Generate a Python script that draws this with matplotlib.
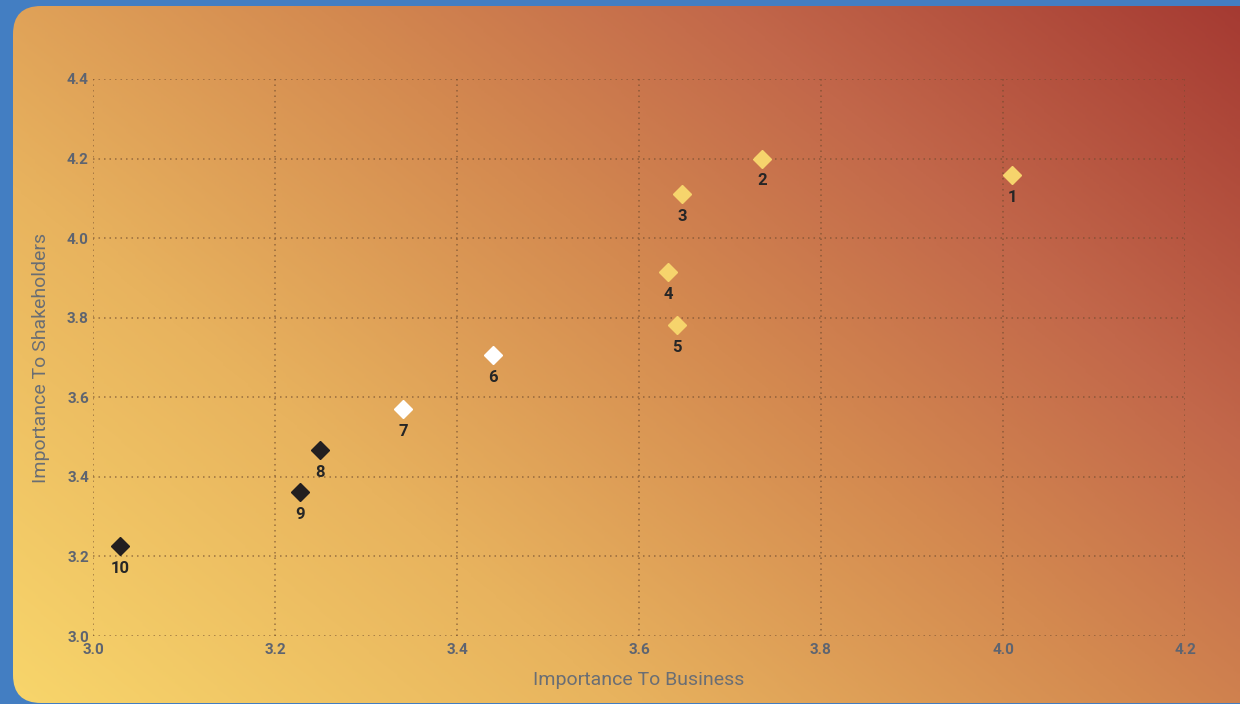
import matplotlib
matplotlib.use("Agg")
import matplotlib.pyplot as plt
import numpy as np
from matplotlib.colors import LinearSegmentedColormap
from matplotlib.patches import FancyBboxPatch

# data
labels = ["1", "2", "3", "4", "5", "6", "7", "8", "9", "10"]
business = [4.01, 3.735, 3.647, 3.632, 3.642, 3.44, 3.341, 3.249, 3.228, 3.03]
shakeholders = [4.158, 4.20, 4.111, 3.915, 3.781, 3.706, 3.570, 3.467, 3.362, 3.226]
groups = ["top", "top", "top", "top", "top", "mid", "mid", "low", "low", "low"]

GROUP_COLOR = {"top": "#F6D46C", "mid": "#FFFFFF", "low": "#231F20"}
xticks = [3.0, 3.2, 3.4, 3.6, 3.8, 4.0, 4.2]
yticks = [3.0, 3.2, 3.4, 3.6, 3.8, 4.0, 4.2, 4.4]

W, H = 1240, 704
fig = plt.figure(figsize=(W / 100, H / 100), dpi=100, facecolor="#437EC2")

# gradient card behind the plot
bg = fig.add_axes([0, 0, 1, 1])
bg.set_xlim(0, W)
bg.set_ylim(0, H)
bg.axis("off")
cmap = LinearSegmentedColormap.from_list(
    "card", [(0.0, "#F8D66B"), (0.3, "#E8B35E"), (0.55, "#D48A50"),
             (0.75, "#C2674A"), (1.0, "#A53A32")])
u = np.linspace(0, 1, 400)
v = np.linspace(0, 1, 300)
U, V = np.meshgrid(u, v)
T = 0.6 * U + 0.4 * V
im = bg.imshow(T, cmap=cmap, origin="lower", extent=[0, W, 0, H],
               aspect="auto", vmin=0, vmax=1, interpolation="bilinear")
card = FancyBboxPatch((13, 1), W - 13 + 30, H - 6 - 1,
                      boxstyle="round,pad=0,rounding_size=28",
                      transform=bg.transData, facecolor="none",
                      edgecolor="none")
bg.add_patch(card)
im.set_clip_path(card)

ax = fig.add_axes([93 / W, (H - 636) / H, (1185 - 93) / W, (636 - 79) / H])
ax.patch.set_alpha(0)
for s in ax.spines.values():
    s.set_visible(False)

ax.set_xlim(3.0, 4.2)
ax.set_ylim(3.0, 4.4)
ax.set_xticks(xticks)
ax.set_yticks(yticks)
ax.set_xticklabels([f"{t:.1f}" for t in xticks])
ax.set_yticklabels([f"{t:.1f}" for t in yticks])
ax.tick_params(length=0, labelsize=11, labelcolor="#5E6470")
ax.tick_params(axis="x", pad=5)
ax.tick_params(axis="y", pad=3)
for t in ax.get_xticklabels() + ax.get_yticklabels():
    t.set_fontweight("bold")
    t.set_family("Roboto")
ax.grid(True, color="#6E4A2E", alpha=0.65, lw=1.1, ls=(0, (1, 2.6)))
ax.set_axisbelow(True)

for lab, x, y, g in zip(labels, business, shakeholders, groups):
    ax.plot(x, y, ls="", marker="D", ms=9.5, mfc=GROUP_COLOR[g],
            mec=GROUP_COLOR[g], zorder=3)
    ax.annotate(lab, (x, y), textcoords="offset points", xytext=(0, -16),
                ha="center", va="center", fontsize=12, color="#262626",
                family="Roboto", fontweight="bold", zorder=4)

ax.set_xlabel("Importance To Business", fontsize=14, color="#6A6E74",
              family="Roboto", labelpad=10)
ax.set_ylabel("Importance To Shakeholders", fontsize=14, color="#6A6E74",
              family="Roboto", labelpad=12)

fig.savefig("out.png", dpi=100, facecolor=fig.get_facecolor())
